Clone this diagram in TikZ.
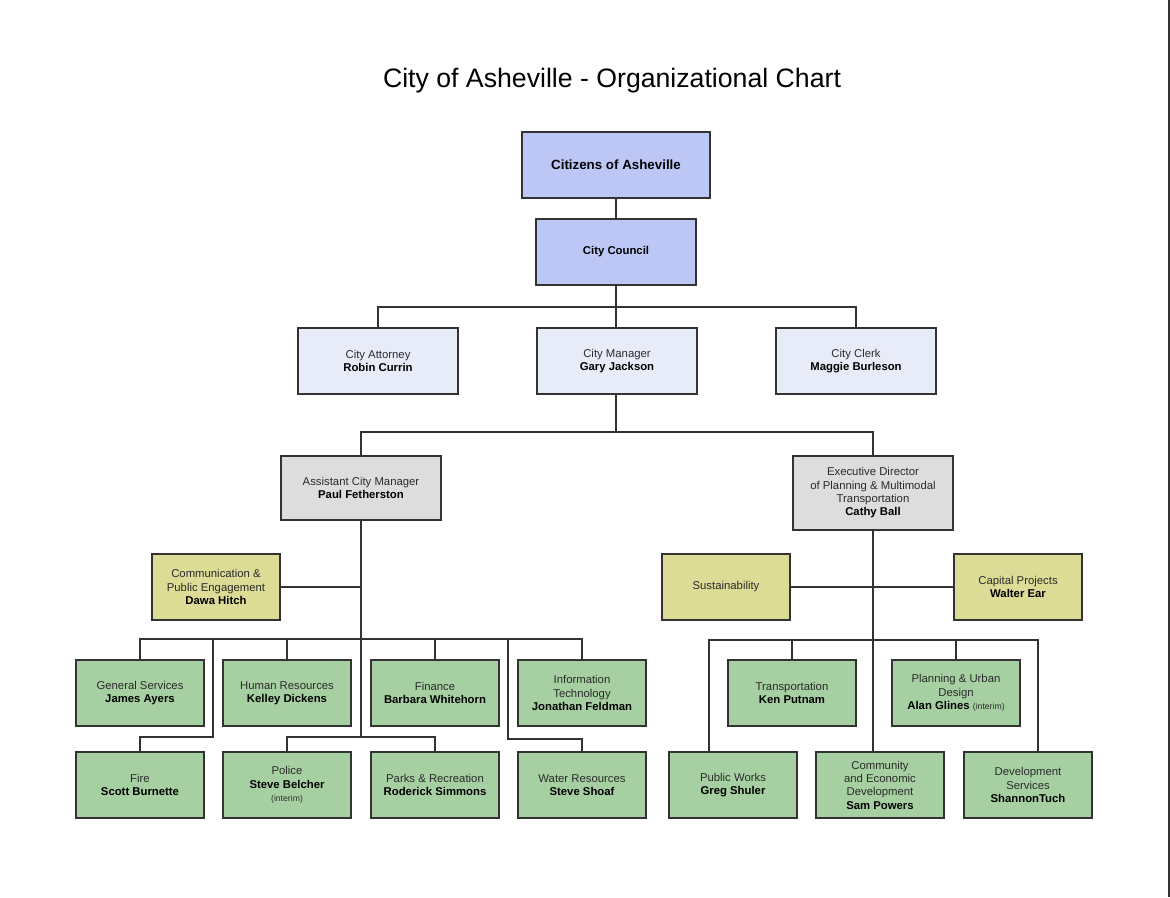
\documentclass[tikz,border=0pt]{standalone}
\usepackage{fontspec}
\setmainfont{Liberation Sans}
\usetikzlibrary{backgrounds}
\definecolor{bord}{HTML}{333333}
\definecolor{txt}{HTML}{2A2A2A}
\definecolor{cblue}{HTML}{BDC7F6}
\definecolor{clight}{HTML}{E8ECF8}
\definecolor{cgray}{HTML}{DDDDDD}
\definecolor{cyel}{HTML}{DCDC97}
\definecolor{cgreen}{HTML}{A7D0A2}
\newcommand\nm[1]{{\bfseries\color{black}#1}}
\newcommand\intr{{\fontsize{6.5}{8}\selectfont (interim)}}
\newcommand\orgbox[7]{\node[orgnode,#2,minimum width=#5*0.75pt,minimum height=#6*0.75pt] (#1) at (#3,#4) {#7};}
\tikzset{
  orgnode/.style={draw=bord, line width=1.4pt, inner sep=0pt, align=center,
    font=\fontsize{8.5}{10}\selectfont, text=txt},
  blue/.style={fill=cblue},
  lightb/.style={fill=clight},
  grayb/.style={fill=cgray},
  yelb/.style={fill=cyel},
  greenb/.style={fill=cgreen},
  conn/.style={draw=bord, line width=1.4pt},
}
\begin{document}
\begin{tikzpicture}[x=0.75pt,y=-0.75pt]
\useasboundingbox (0,0) rectangle (1170,897);
\draw[line width=1.5pt, color=bord] (1169,0) -- (1169,897);

\node[font=\fontsize{20}{23}\selectfont, text=black] (title) at (612,81) {City of Asheville - Organizational Chart};

\orgbox{citizens}{blue}{616}{165}{188}{66}{\nm{\fontsize{10}{12}\selectfont Citizens of Asheville}}
\orgbox{council}{blue}{616}{252}{160}{66}{\nm{City Council}}
\orgbox{attorney}{lightb}{378}{361}{160}{66}{City Attorney\\\nm{Robin Currin}}
\orgbox{manager}{lightb}{617}{361}{160}{66}{City Manager\\\nm{Gary Jackson}}
\orgbox{clerk}{lightb}{856}{361}{160}{66}{City Clerk\\\nm{Maggie Burleson}}
\orgbox{asst}{grayb}{361}{488}{160}{64}{Assistant City Manager\\\nm{Paul Fetherston}}
\orgbox{exec}{grayb}{873}{493}{160}{74}{Executive Director\\of Planning \& Multimodal\\Transportation\\\nm{Cathy Ball}}
\orgbox{comm}{yelb}{216}{587}{128}{66}{Communication \&\\Public Engagement\\\nm{Dawa Hitch}}
\orgbox{sust}{yelb}{726}{587}{128}{66}{Sustainability}
\orgbox{capital}{yelb}{1018}{587}{128}{66}{Capital Projects\\\nm{Walter Ear}}

\orgbox{gs}{greenb}{140}{693}{128}{66}{General Services\\\nm{James Ayers}}
\orgbox{hr}{greenb}{287}{693}{128}{66}{Human Resources\\\nm{Kelley Dickens}}
\orgbox{fin}{greenb}{435}{693}{128}{66}{Finance\\\nm{Barbara Whitehorn}}
\orgbox{it}{greenb}{582}{693}{128}{66}{Information\\Technology\\\nm{Jonathan Feldman}}
\orgbox{fire}{greenb}{140}{785}{128}{66}{Fire\\\nm{Scott Burnette}}
\orgbox{police}{greenb}{287}{785}{128}{66}{Police\\\nm{Steve Belcher}\\\intr}
\orgbox{parks}{greenb}{435}{785}{128}{66}{Parks \& Recreation\\\nm{Roderick Simmons}}
\orgbox{water}{greenb}{582}{785}{128}{66}{Water Resources\\\nm{Steve Shoaf}}

\orgbox{trans}{greenb}{792}{693}{128}{66}{Transportation\\\nm{Ken Putnam}}
\orgbox{plan}{greenb}{956}{693}{128}{66}{Planning \& Urban\\Design\\\nm{Alan Glines} \intr}
\orgbox{pw}{greenb}{733}{785}{128}{66}{Public Works\\\nm{Greg Shuler}}
\orgbox{ced}{greenb}{880}{785}{128}{66}{Community\\and Economic\\Development\\\nm{Sam Powers}}
\orgbox{dev}{greenb}{1028}{785}{128}{66}{Development\\Services\\\nm{ShannonTuch}}

\begin{scope}[on background layer]
% top levels
\coordinate (cbus) at (616,307);
\coordinate (mbus) at (616,432);
\draw[conn] (citizens.south) -- (council.north);
\draw[conn] (council.south) -- (council.south |- manager.north);
\draw[conn] (attorney.north) |- (cbus) -| (clerk.north);
\draw[conn] (council.south |- manager.south) -- (mbus);
\draw[conn] (asst.north) |- (mbus) -| (exec.north);

% assistant city manager group
\coordinate (abus) at (361,639);
\coordinate (pbus) at (361,737);
\coordinate (firek) at (213,737);
\coordinate (waterk) at (508,739);
\draw[conn] (asst.south) -- (pbus);
\draw[conn] (comm.east) -- (comm.east -| asst.south);
\draw[conn] (gs.north) |- (abus) -| (it.north);
\draw[conn] (hr.north) -- (hr.north |- abus);
\draw[conn] (fin.north) -- (fin.north |- abus);
\draw[conn] (fire.north) |- (firek) -- (firek |- abus);
\draw[conn] (police.north) |- (pbus) -| (parks.north);
\draw[conn] (water.north) |- (waterk) -- (waterk |- abus);

% executive director group
\coordinate (ebus) at (873,640);
\coordinate (pwk) at (709,640);
\coordinate (devk) at (1038,640);
\draw[conn] (exec.south) -- (exec.south |- ced.north);
\draw[conn] (sust.east) -- (capital.west);
\draw[conn] (pwk |- pw.north) -- (pwk) -- (devk) -- (devk |- dev.north);
\draw[conn] (trans.north) -- (trans.north |- ebus);
\draw[conn] (plan.north) -- (plan.north |- ebus);
\end{scope}
\end{tikzpicture}
\end{document}
